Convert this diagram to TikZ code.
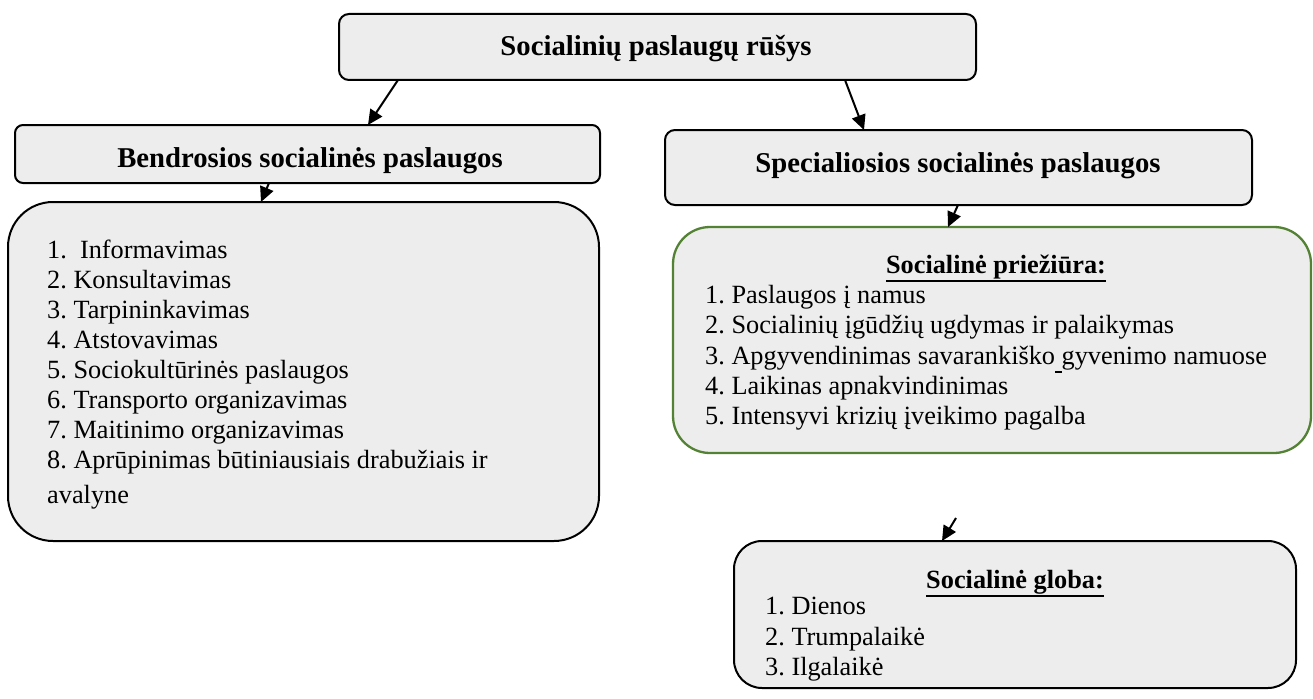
\documentclass[tikz,border=0pt]{standalone}
\usepackage{fontspec}
\setmainfont{Liberation Serif}
\usetikzlibrary{arrows.meta}
\frenchspacing
\newcommand{\ulx}[1]{\setbox0\hbox{#1}\rlap{\rule[-8.5pt]{\wd0}{1.8pt}}\box0}
\definecolor{boxfill}{RGB}{237,237,237}
\definecolor{boxgreen}{RGB}{84,130,53}
\tikzset{
  box/.style={draw=black, line width=2pt, fill=boxfill, rounded corners=#1,
    inner sep=0pt, outer sep=0pt, anchor=north west},
  gbox/.style={box=#1, draw=boxgreen, line width=2.3pt},
  hd/.style={font=\fontsize{28.7}{33}\selectfont\bfseries, inner sep=0pt, anchor=base},
  sub/.style={font=\fontsize{26.3}{30}\selectfont\bfseries, inner sep=0pt, anchor=base},
  item/.style={font=\fontsize{26.3}{30}\selectfont, inner sep=0pt, anchor=base west},
  arr/.style={line width=2pt, -{Triangle[length=15pt,width=14pt]}},
}
\begin{document}
\begin{tikzpicture}[x=1pt,y=-1pt]
\useasboundingbox (0,0) rectangle (1313,698);
% boxes
\node[box=10pt, minimum width=637pt, minimum height=66pt] (top) at (339,14) {};
\node[box=8pt, minimum width=585pt, minimum height=58pt] (bend) at (15,125) {};
\node[box=10pt, minimum width=587pt, minimum height=75pt] (spec) at (665,130) {};
\node[box=45pt, minimum width=591pt, minimum height=339pt] (lbox) at (8,202) {};
\node[gbox=37pt, minimum width=638pt, minimum height=226pt] (gbox) at (673,227) {};
\node[box=28pt, minimum width=562pt, minimum height=147pt] (globa) at (734,541) {};
% headings
\node[hd] (ttop) at (656,56) {Socialinių paslaugų rūšys};
\node[hd] (tbend) at (310,167) {Bendrosios socialinės paslaugos};
\node[hd] (tspec) at (958,172) {Specialiosios socialinės paslaugos};
\node[sub] (tg) at (996,273) {\ulx{Socialinė priežiūra:}};
\node[sub] (tgl) at (1015,588) {\ulx{Socialinė globa:}};
% left list
\node[item] (l1) at (47,258) {1.\ \ Informavimas};
\node[item] (l2) at (47,288) {2. Konsultavimas};
\node[item] (l3) at (47,318) {3. Tarpininkavimas};
\node[item] (l4) at (47,348) {4. Atstovavimas};
\node[item] (l5) at (47,378) {5. Sociokultūrinės paslaugos};
\node[item] (l6) at (47,408) {6. Transporto organizavimas};
\node[item] (l7) at (47,438) {7. Maitinimo organizavimas};
\node[item] (l8) at (47,468) {8. Aprūpinimas būtiniausiais drabužiais ir};
\node[item] (l9) at (47,503) {avalyne};
% green list
\node[item] (g1) at (705,303) {1. Paslaugos į namus};
\node[item] (g2) at (705,333) {2. Socialinių įgūdžių ugdymas ir palaikymas};
\node[item] (g3) at (705,364) {3. Apgyvendinimas savarankiško\ulx{\ }gyvenimo namuose};
\node[item] (g4) at (705,394) {4. Laikinas apnakvindinimas};
\node[item] (g5) at (705,424) {5. Intensyvi krizių įveikimo pagalba};
% globa list
\node[item] (c1) at (765,614) {1. Dienos};
\node[item] (c2) at (765,645) {2. Trumpalaikė};
\node[item] (c3) at (765,675) {3. Ilgalaikė};
% arrows
\draw[arr] ([xshift=-259.5pt]top.south) -- ([xshift=60.5pt]bend.north);
\draw[arr] ([xshift=187.5pt]top.south) -- ([xshift=-94.5pt]spec.north);
\draw[arr] ([xshift=-38.5pt]bend.south) -- ([xshift=-42.5pt]lbox.north);
\draw[arr] ([xshift=-0.5pt]spec.south) -- ([xshift=-44pt]gbox.north);
\draw[arr] ([xshift=-36pt]gbox.south |- 0,518) -- ([xshift=-73pt]globa.north);
\end{tikzpicture}
\end{document}
